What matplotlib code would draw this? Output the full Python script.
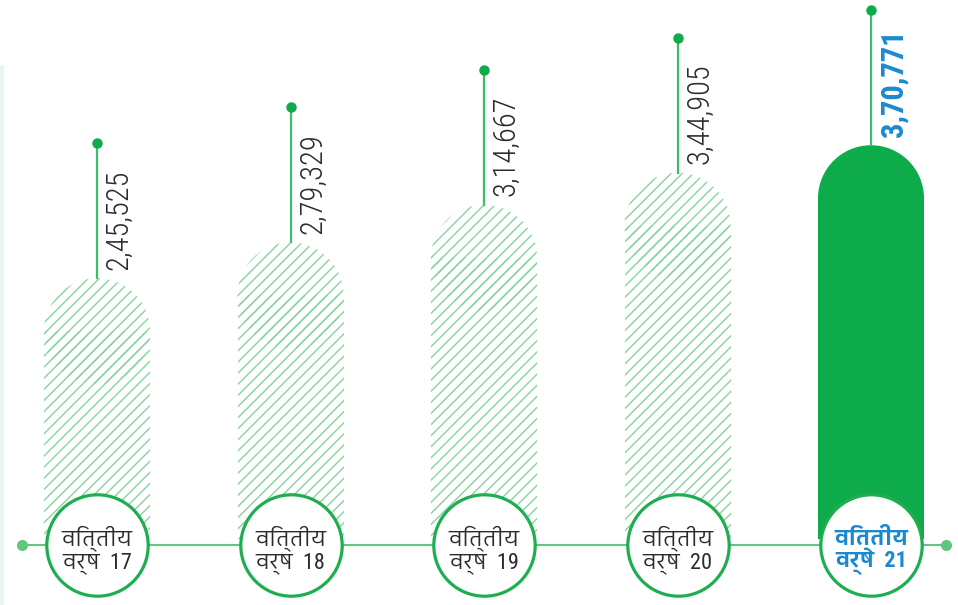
import matplotlib
matplotlib.use("Agg")
import matplotlib.pyplot as plt
from matplotlib import font_manager
from matplotlib.ft2font import FT2Font
from matplotlib.patches import Ellipse, Rectangle

# Value per financial year
years = ["17", "18", "19", "20", "21"]
values = [245525, 279329, 314667, 344905, 370771]
value_labels = ["2,45,525", "2,79,329", "3,14,667", "3,44,905", "3,70,771"]
year_word = "वित्तीय"
year_prefix = "वर्ष"

GREEN = "#0dab4a"
HATCH = "#86d4a0"
STEM = "#3dbd68"
LINE = "#62c680"
BLUE = "#1a8ad0"
TEXT = "#2b2b2b"


def score(name):
    s = 0
    if "Devanagari" in name:
        s += 4
    if "Sans" in name:
        s += 2
    if "Mono" in name or "Serif" in name or "UI" in name:
        s -= 3
    return s


def devanagari_font():
    found = []
    for f in font_manager.fontManager.ttflist:
        try:
            if ord("व") in FT2Font(f.fname).get_charmap():
                found.append(f.name)
        except Exception:
            continue
    return max(found, key=score) if found else None


def narrow_font():
    names = {f.name for f in font_manager.fontManager.ttflist}
    for n in ["Liberation Sans Narrow", "Roboto Condensed", "DejaVu Sans Condensed",
              "Open Sans Condensed"]:
        if n in names:
            return n, 22
    return "Liberation Sans", 19


narrow, label_size = narrow_font()
deva = devanagari_font()
label_family = [narrow, "DejaVu Sans"]
circle_family = [narrow, deva, "DejaVu Sans"] if deva else label_family

W, H = 958, 605
fig = plt.figure(figsize=(W / 100, H / 100), dpi=100)
ax = fig.add_axes([0, 0, 1, 1])
ax.axis("off")

# pixel scales: 193.5 px between bars, 0.001062 px per unit of value
px_x = 193.5
px_y = 0.001062
ax.set_xlim(-97 / px_x, 4 + (W - 871) / px_x)
ax.set_ylim(-66 / px_y, 539 / px_y)

x = list(range(len(values)))
bar_w = 106 / px_x
cap_ry = 53 / px_y
stem = 135 / px_y
base = -6 / px_y

plt.rcParams["hatch.linewidth"] = 1.0

# faint strip on the left edge
ax.add_patch(Rectangle((0, 0), 4 / W, 540 / H, transform=ax.transAxes,
                       facecolor="#e9f6ef", edgecolor="none", zorder=0))

for i, v in enumerate(values):
    solid = i == len(values) - 1
    kw = dict(facecolor=GREEN, edgecolor=GREEN) if solid else \
        dict(facecolor="none", edgecolor=HATCH, hatch="///")
    ax.bar(x[i], v - cap_ry, width=bar_w, bottom=0, linewidth=0, zorder=2, **kw)
    ax.add_patch(Ellipse((x[i], v - cap_ry), bar_w, 2 * cap_ry, linewidth=0,
                         zorder=2, **kw))
    # stem with dot above each bar
    ax.plot([x[i], x[i]], [v, v + stem], color=STEM, lw=1.6, zorder=3)
    ax.plot(x[i], v + stem, "o", color=GREEN, ms=6.5, zorder=4)
    ax.annotate(value_labels[i], (x[i], v), xytext=(5.5, 6),
                textcoords="offset points", rotation=90, ha="left", va="bottom",
                fontsize=label_size, family=label_family,
                color=BLUE if solid else TEXT,
                fontweight="bold" if solid else "light", zorder=5)

# baseline with end dots
ends = [-75 / px_x, 4 + 75 / px_x]
ax.plot(ends, [base, base], color=LINE, lw=1.5, zorder=1)
ax.plot(ends, [base, base], "o", color=LINE, ms=7, zorder=1)

for i in x:
    solid = i == len(values) - 1
    ax.plot(x[i], base, "o", ms=73, mfc="white", mec="#1fae4f", mew=2.3, zorder=6)
    c = BLUE if solid else TEXT
    fw = "bold" if solid else "normal"
    ax.annotate(year_word, (x[i], base), xytext=(0, 5), textcoords="offset points",
                ha="center", va="center", fontsize=16, family=circle_family,
                color=c, fontweight=fw, zorder=7)
    ax.annotate(f"{year_prefix}  {years[i]}", (x[i], base), xytext=(0, -13),
                textcoords="offset points", ha="center", va="center", fontsize=16,
                family=circle_family, color=c, fontweight=fw, zorder=7)

fig.savefig("out.png", dpi=100)
